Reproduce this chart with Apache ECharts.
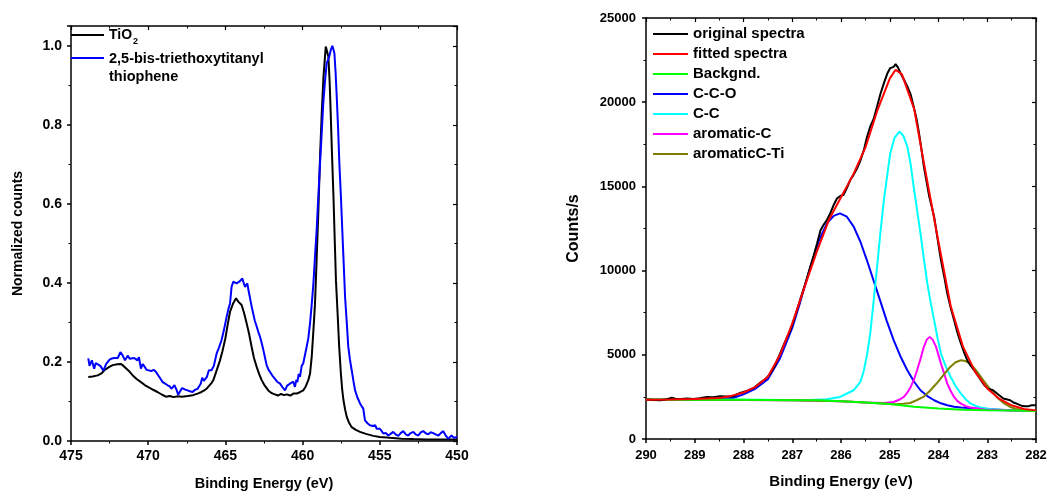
<!DOCTYPE html>
<html>
<head>
<meta charset="utf-8">
<script src="https://cdn.jsdelivr.net/npm/echarts@6/dist/echarts.min.js"></script>
<style>
html,body{margin:0;padding:0;background:#fff;}
#chart{width:1047px;height:492px;}
</style>
</head>
<body>
<div id="chart"></div>
<script>
// ---------- Left panel: Ti 2p normalized spectra ----------
const leftXTicks = [475, 470, 465, 460, 455, 450];
const leftYTicks = [0.0, 0.2, 0.4, 0.6, 0.8, 1.0];

const tio2X = [473.88,473.6,473.27,473.0,472.84,472.55,472.3,472.0,471.76,471.6,471.44,471.2,471.0,470.75,470.47,470.2,469.93,469.65,469.4,469.1,468.85,468.6,468.35,468.1,467.8,467.44,467.1,466.8,466.55,466.37,466.2,465.93,465.78,465.6,465.35,465.2,465.0,464.85,464.7,464.5,464.31,464.15,463.95,463.8,463.62,463.45,463.3,463.15,462.97,462.8,462.65,462.45,462.22,462.0,461.8,461.6,461.4,461.2,461.03,460.8,460.6,460.38,460.15,459.96,459.8,459.63,459.52,459.41,459.3,459.2,459.1,458.98,458.87,458.76,458.65,458.5,458.33,458.25,458.18,458.1,458.0,457.92,457.84,457.73,457.63,457.52,457.43,457.36,457.25,457.14,457.0,456.82,456.55,456.28,455.9,455.42,455.0,454.34,453.6,452.83,452.0,451.0,450.0];
const tio2Y = [0.162,0.163,0.166,0.172,0.179,0.187,0.192,0.194,0.195,0.19,0.184,0.175,0.166,0.157,0.149,0.141,0.135,0.129,0.124,0.117,0.112,0.114,0.111,0.113,0.112,0.114,0.116,0.120,0.124,0.128,0.133,0.145,0.154,0.175,0.204,0.226,0.26,0.295,0.327,0.348,0.361,0.352,0.344,0.325,0.297,0.268,0.238,0.21,0.187,0.168,0.154,0.14,0.128,0.121,0.118,0.115,0.119,0.116,0.118,0.115,0.12,0.120,0.124,0.128,0.138,0.154,0.17,0.213,0.28,0.345,0.45,0.58,0.72,0.83,0.92,0.998,0.973,0.91,0.83,0.73,0.618,0.51,0.407,0.32,0.238,0.17,0.128,0.105,0.08,0.061,0.047,0.035,0.028,0.023,0.018,0.013,0.01,0.008,0.006,0.005,0.004,0.004,0.004];

const thioX = [473.88,473.8,473.65,473.5,473.4,473.3,473.1,472.9,472.72,472.5,472.35,472.2,471.97,471.8,471.65,471.5,471.33,471.2,471.1,470.9,470.7,470.6,470.47,470.35,470.25,470.1,470.0,469.8,469.65,469.5,469.28,469.06,468.9,468.74,468.6,468.5,468.3,468.15,468.06,467.9,467.8,467.6,467.45,467.3,467.13,466.95,466.8,466.6,466.5,466.4,466.3,466.2,466.07,465.9,465.75,465.57,465.43,465.25,465.1,464.92,464.8,464.7,464.6,464.49,464.38,464.27,464.1,463.9,463.8,463.73,463.58,463.5,463.4,463.3,463.2,463.1,462.97,462.86,462.76,462.65,462.54,462.43,462.33,462.2,462.1,461.95,461.8,461.65,461.46,461.3,461.14,461.0,460.93,460.82,460.7,460.6,460.5,460.4,460.34,460.25,460.17,460.06,459.96,459.85,459.74,459.63,459.52,459.41,459.3,459.2,459.09,458.98,458.87,458.76,458.66,458.55,458.44,458.35,458.27,458.17,458.07,457.94,457.86,457.79,457.7,457.62,457.52,457.43,457.34,457.25,457.14,457.04,456.93,456.82,456.7,456.6,456.45,456.28,456.17,456.07,455.96,455.8,455.64,455.45,455.3,455.2,455.1,454.99,454.88,454.77,454.6,454.45,454.3,454.13,453.95,453.8,453.65,453.48,453.3,453.16,453.0,452.83,452.65,452.5,452.35,452.19,452.0,451.86,451.7,451.54,451.35,451.2,451.05,450.89,450.75,450.57,450.45,450.35,450.2,450.13,450.0];
const thioY = [0.209,0.19,0.204,0.183,0.197,0.20,0.19,0.178,0.195,0.206,0.209,0.21,0.21,0.225,0.216,0.204,0.216,0.208,0.206,0.21,0.204,0.212,0.183,0.195,0.19,0.18,0.182,0.177,0.18,0.175,0.162,0.149,0.145,0.141,0.138,0.132,0.141,0.128,0.117,0.128,0.134,0.13,0.128,0.126,0.124,0.13,0.132,0.145,0.16,0.152,0.149,0.162,0.179,0.179,0.19,0.221,0.235,0.255,0.28,0.314,0.335,0.348,0.39,0.403,0.398,0.399,0.403,0.411,0.398,0.39,0.399,0.38,0.361,0.34,0.323,0.305,0.289,0.275,0.264,0.248,0.23,0.21,0.192,0.18,0.175,0.165,0.158,0.15,0.145,0.136,0.128,0.14,0.137,0.145,0.141,0.15,0.137,0.155,0.149,0.17,0.162,0.19,0.196,0.217,0.238,0.26,0.297,0.345,0.399,0.465,0.534,0.62,0.703,0.78,0.855,0.91,0.956,0.965,0.973,0.99,1.0,0.981,0.93,0.872,0.79,0.703,0.62,0.534,0.45,0.365,0.3,0.238,0.205,0.179,0.15,0.128,0.11,0.095,0.088,0.082,0.052,0.045,0.04,0.038,0.04,0.031,0.036,0.031,0.025,0.019,0.02,0.014,0.018,0.023,0.016,0.013,0.02,0.025,0.016,0.014,0.02,0.023,0.016,0.014,0.022,0.025,0.019,0.017,0.022,0.02,0.016,0.014,0.02,0.025,0.015,0.006,0.01,0.014,0.008,0.004,0.01];

// ---------- Right panel: C 1s fit ----------
const rightXTicks = [290, 289, 288, 287, 286, 285, 284, 283, 282];
const rightYTicks = [0, 5000, 10000, 15000, 20000, 25000];

const origX = [290.0,289.85,289.71,289.6,289.47,289.4,289.3,289.15,289.03,288.9,288.75,288.62,288.48,288.35,288.21,288.07,287.93,287.79,287.66,287.55,287.45,287.35,287.25,287.15,287.04,286.94,286.84,286.73,286.63,286.56,286.49,286.42,286.36,286.29,286.22,286.15,286.08,286.0,285.95,285.88,285.81,285.74,285.67,285.6,285.53,285.47,285.40,285.33,285.26,285.19,285.12,285.05,284.99,284.92,284.88,284.83,284.78,284.71,284.64,284.57,284.51,284.45,284.40,284.35,284.30,284.24,284.19,284.14,284.09,284.02,283.95,283.88,283.82,283.75,283.68,283.61,283.54,283.47,283.41,283.34,283.27,283.2,283.13,283.06,282.99,282.88,282.8,282.67,282.53,282.45,282.4,282.3,282.23,282.15,282.09,282.0];
const origY = [2340,2320,2300,2340,2458,2390,2380,2400,2380,2420,2500,2480,2540,2520,2540,2736,2855,3033,3331,3560,3886,4400,5075,5750,6463,7300,8247,9250,10230,10900,11617,12400,12708,13000,13402,13900,14294,14450,14492,14900,15384,15700,16078,16550,17168,17900,18556,19000,19746,20500,21133,21700,22026,22100,22264,22050,21728,21350,20935,20450,19746,19000,18160,17200,16177,15200,14393,13800,13203,11900,10626,9600,8643,7800,7057,6300,5670,5100,4679,4350,4084,3800,3489,3200,2994,2895,2700,2402,2300,2150,2105,1980,1944,1950,2004,2000];

const fitX = [290.0,289.5,289.0,288.5,288.25,288.0,287.75,287.5,287.25,287.0,286.75,286.5,286.25,286.0,285.75,285.5,285.25,285.0,284.88,284.75,284.5,284.25,284.0,283.75,283.5,283.25,283.0,282.75,282.5,282.25,282.0];
const fitY = [2330,2340,2370,2440,2560,2760,3100,3700,5000,6850,9000,11100,13000,14350,15700,17300,19550,21400,21930,21650,19600,15600,11700,7900,5500,4000,3000,2380,2000,1780,1700];

const bgX = [290.0,289.0,288.0,287.5,287.0,286.5,286.0,285.5,285.0,284.5,284.0,283.5,283.0,282.5,282.0];
const bgY = [2340,2338,2333,2320,2305,2295,2240,2170,2080,1920,1810,1740,1705,1685,1665];

const ccoX = [290.0,289.0,288.5,288.2,288.0,287.75,287.5,287.25,287.0,286.84,286.63,286.45,286.29,286.15,286.02,285.88,285.74,285.6,285.47,285.33,285.2,285.06,284.92,284.78,284.64,284.5,284.37,284.23,284.09,283.95,283.82,283.68,283.54,283.2,283.0,282.5,282.0];
const ccoY = [2340,2338,2360,2450,2650,3000,3550,4800,6600,8100,10200,11800,12800,13250,13402,13200,12609,11700,10626,9400,8247,7000,5868,4900,4084,3400,2894,2550,2300,2120,2002,1920,1864,1804,1760,1700,1670];

const ccX = [290.0,288.0,287.0,286.63,286.29,286.02,285.74,285.6,285.53,285.46,285.40,285.33,285.26,285.19,285.12,285.05,284.99,284.9,284.80,284.72,284.64,284.57,284.51,284.44,284.37,284.3,284.23,284.16,284.09,284.02,283.95,283.85,283.75,283.65,283.54,283.44,283.34,283.23,283.13,282.86,282.5,282.0];
const ccY = [2340,2330,2310,2320,2360,2498,2894,3400,4084,5100,6265,8200,10230,12300,14194,15700,16970,17900,18258,18000,17366,16300,14988,13600,12212,10700,9238,8100,7057,6000,5075,4300,3687,3150,2696,2350,2101,1960,1864,1745,1690,1670];

const aromX = [290.0,287.0,286.0,285.5,285.12,284.92,284.81,284.71,284.64,284.57,284.5,284.44,284.37,284.3,284.24,284.18,284.12,284.05,283.95,283.88,283.82,283.75,283.68,283.61,283.54,283.44,283.34,283.13,283.0,282.5,282.0];
const aromY = [2340,2300,2240,2170,2141,2200,2330,2498,2750,3093,3550,4084,4750,5472,5900,6066,5900,5472,4480,3850,3291,2850,2498,2250,2101,1950,1864,1784,1730,1690,1665];

const aromTiX = [290.0,287.0,286.0,285.5,285.0,284.86,284.72,284.58,284.45,284.31,284.18,284.04,283.9,283.76,283.65,283.54,283.45,283.35,283.22,283.08,282.95,282.81,282.67,282.53,282.4,282.26,282.0];
const aromTiY = [2340,2300,2240,2170,2080,2063,2090,2140,2300,2497,2850,3294,3800,4281,4560,4679,4630,4483,4050,3490,2990,2497,2150,1903,1780,1706,1670];

const FONT = "'Liberation Sans', Arial, Helvetica, sans-serif";
const pairs = (xs, ys) => xs.map((x, i) => [x, ys[i]]);

function bottomX(gi, min, max, interval, fs, gap, margin, nameFs) {
  return {
    type: 'value', gridIndex: gi, position: 'bottom', min: min, max: max, interval: interval, inverse: true,
    axisLine: {show: true, onZero: false, lineStyle: {color: '#000', width: 1.5}},
    axisTick: {show: true, inside: false, length: 4, lineStyle: {color: '#000', width: 1.5}},
    minorTick: {show: true, splitNumber: 2, length: 2.5, lineStyle: {color: '#000', width: 1}},
    splitLine: {show: false}, minorSplitLine: {show: false},
    axisLabel: {color: '#000', fontWeight: 'bold', fontSize: fs, fontFamily: FONT, margin: margin},
    name: 'Binding Energy (eV)', nameLocation: 'middle', nameGap: gap,
    nameTextStyle: {color: '#000', fontWeight: 'bold', fontSize: nameFs, fontFamily: FONT}
  };
}
function topX(gi, min, max, interval) {
  return {
    type: 'value', gridIndex: gi, position: 'top', min: min, max: max, interval: interval, inverse: true,
    axisLine: {show: true, onZero: false, lineStyle: {color: '#000', width: 1.5}},
    axisTick: {show: true, inside: true, length: 4, lineStyle: {color: '#000', width: 1.2}},
    minorTick: {show: true, splitNumber: 2, length: 2.5, lineStyle: {color: '#000', width: 1}},
    splitLine: {show: false}, axisLabel: {show: false}
  };
}
function leftY(gi, min, max, interval, fs, name, gap, margin, fmt, nameFs) {
  return {
    type: 'value', gridIndex: gi, position: 'left', min: min, max: max, interval: interval,
    axisLine: {show: true, onZero: false, lineStyle: {color: '#000', width: 1.5}},
    axisTick: {show: true, inside: false, length: 4, lineStyle: {color: '#000', width: 1.5}},
    minorTick: {show: true, splitNumber: 2, length: 2.5, lineStyle: {color: '#000', width: 1}},
    splitLine: {show: false}, minorSplitLine: {show: false},
    axisLabel: {color: '#000', fontWeight: 'bold', fontSize: fs, fontFamily: FONT, margin: margin,
      formatter: fmt, showMaxLabel: max % interval === 0},
    name: name, nameLocation: 'middle', nameGap: gap,
    nameTextStyle: {color: '#000', fontWeight: 'bold', fontSize: nameFs, fontFamily: FONT}
  };
}
function rightY(gi, min, max, interval) {
  return {
    type: 'value', gridIndex: gi, position: 'right', min: min, max: max, interval: interval,
    axisLine: {show: true, onZero: false, lineStyle: {color: '#000', width: 1.5}},
    axisTick: {show: true, inside: true, length: 4, lineStyle: {color: '#000', width: 1.2}},
    minorTick: {show: true, splitNumber: 2, length: 2.5, lineStyle: {color: '#000', width: 1}},
    splitLine: {show: false}, axisLabel: {show: false}
  };
}
function line(name, xi, yi, xs, ys, color, z) {
  return {
    name: name, type: 'line', xAxisIndex: xi, yAxisIndex: yi, data: pairs(xs, ys),
    showSymbol: false, symbol: 'none', smooth: false, z: z,
    lineStyle: {color: color, width: 2}, itemStyle: {color: color}
  };
}

const chart = echarts.init(document.getElementById('chart'), null, {renderer: 'canvas'});
chart.setOption({
  animation: false,
  backgroundColor: '#fff',
  grid: [
    {left: 71, top: 26, width: 386, height: 415, containLabel: false, outerBoundsMode: 'none'},
    {left: 646, top: 18, width: 390, height: 421, containLabel: false, outerBoundsMode: 'none'}
  ],
  xAxis: [
    bottomX(0, leftXTicks[leftXTicks.length - 1], leftXTicks[0], 5, 14, 35, 8, 14.5),
    bottomX(1, rightXTicks[rightXTicks.length - 1], rightXTicks[0], 1, 13, 35, 10, 15),
    topX(0, leftXTicks[leftXTicks.length - 1], leftXTicks[0], 5),
    topX(1, rightXTicks[rightXTicks.length - 1], rightXTicks[0], 1)
  ],
  yAxis: [
    leftY(0, leftYTicks[0], 1.05, 0.2, 14, 'Normalized counts', 46, 9, v => v.toFixed(1), 14),
    leftY(1, rightYTicks[0], rightYTicks[rightYTicks.length - 1], 5000, 13, 'Counts/s', 64, 10, v => String(v), 16),
    rightY(0, leftYTicks[0], 1.05, 0.2),
    rightY(1, rightYTicks[0], rightYTicks[rightYTicks.length - 1], 5000)
  ],
  legend: {
    show: true, orient: 'vertical', left: 653, top: 26, padding: 0, selectedMode: false,
    icon: 'rect', itemWidth: 35, itemHeight: 2, itemGap: 4,
    textStyle: {color: '#000', fontWeight: 'bold', fontSize: 15, fontFamily: FONT, lineHeight: 16},
    data: ['original spectra', 'fitted spectra', 'Backgnd.', 'C-C-O', 'C-C', 'aromatic-C', 'aromaticC-Ti']
  },
  graphic: [
    {type: 'line', shape: {x1: 71, y1: 35, x2: 104, y2: 35}, style: {stroke: '#000', lineWidth: 2}, z: 100},
    {type: 'line', shape: {x1: 71, y1: 58, x2: 104, y2: 58}, style: {stroke: '#0000ff', lineWidth: 2}, z: 100},
    {type: 'text', left: 109, top: 28, style: {text: 'TiO', fill: '#000', font: 'bold 14px ' + FONT}, z: 100},
    {type: 'text', left: 133, top: 37, style: {text: '2', fill: '#000', font: 'bold 9px ' + FONT}, z: 100},
    {type: 'text', left: 109, top: 51, style: {text: '2,5-bis-triethoxytitanyl', fill: '#000', font: 'bold 14.5px ' + FONT}, z: 100},
    {type: 'text', left: 109, top: 69, style: {text: 'thiophene', fill: '#000', font: 'bold 14.5px ' + FONT}, z: 100}
  ],
  series: [
    line('TiO2', 0, 0, tio2X, tio2Y, '#000000', 2),
    line('2,5-bis-triethoxytitanyl thiophene', 0, 0, thioX, thioY, '#0000ff', 3),
    line('C-C-O', 1, 1, ccoX, ccoY, '#0000ff', 2),
    line('C-C', 1, 1, ccX, ccY, '#00ffff', 2),
    line('aromatic-C', 1, 1, aromX, aromY, '#ff00ff', 2),
    line('aromaticC-Ti', 1, 1, aromTiX, aromTiY, '#808000', 2),
    line('Backgnd.', 1, 1, bgX, bgY, '#00ff00', 3),
    line('original spectra', 1, 1, origX, origY, '#000000', 3),
    line('fitted spectra', 1, 1, fitX, fitY, '#ff0000', 4)
  ]
});
</script>
</body>
</html>
